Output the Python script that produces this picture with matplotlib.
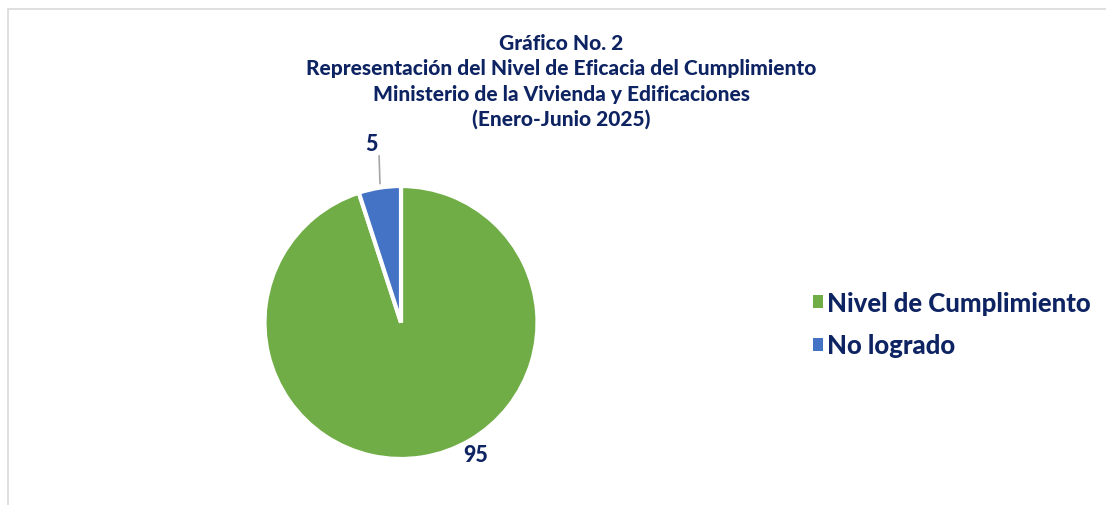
import matplotlib.pyplot as plt
from matplotlib.patches import Rectangle
import numpy as np

# data
categories = ["Nivel de Cumplimiento", "No logrado"]
values = [95, 5]
colors = ["#70AD47", "#4472C4"]
title_lines = [
    "Gráfico No. 2",
    "Representación del Nivel de Eficacia del Cumplimiento",
    "Ministerio de la Vivienda y Edificaciones",
    "(Enero-Junio 2025)",
]

navy = "#0E2362"
plt.rcParams["font.family"] = ["Lato", "DejaVu Sans"]

W, H = 1106, 506
fig = plt.figure(figsize=(W / 100, H / 100), dpi=100)

# light frame (chart area border, cut at right/bottom)
fig.patches.append(Rectangle((8 / W, -0.1), 1.2, 1.1 - 10 / H, transform=fig.transFigure,
                             fill=False, edgecolor="#D9D9D9", linewidth=1.2))

# pie axes: centre (401, 323) px, radius ~136 px
r_px = 136.5
half = 200
ax = fig.add_axes([(401 - half) / W, (H - 323.5 - half) / H, 2 * half / W, 2 * half / H])
wedges, _ = ax.pie(values, colors=colors, startangle=90, counterclock=False,
                   wedgeprops=dict(edgecolor="white", linewidth=3))
lim = half / r_px
ax.set_xlim(-lim, lim)
ax.set_ylim(-lim, lim)
ax.set_aspect("equal")
ax.axis("off")

# data labels
ang95 = np.deg2rad(-60.4)
ax.text(1.115 * np.cos(ang95), 1.115 * np.sin(ang95), str(values[0]), ha="center", va="center",
        fontsize=15.5, fontweight=900, color=navy)
ang5 = np.deg2rad(99.5)
ax.text(1.33 * np.cos(ang5), 1.33 * np.sin(ang5), str(values[1]), ha="center", va="center",
        fontsize=15.5, fontweight=900, color=navy)
a1 = np.deg2rad(98.6)
ax.plot([1.03 * np.cos(a1), 1.23 * np.cos(np.deg2rad(97.5))],
        [1.03 * np.sin(a1), 1.23 * np.sin(np.deg2rad(97.5))], color="#A6A6A6", lw=1.2)

# title
ys = [43, 68, 94, 119]
for line, y in zip(title_lines, ys):
    fig.text(561 / W, 1 - y / H, line, ha="center", va="center",
             fontsize=15, fontweight=900, color=navy)

# legend
leg = fig.legend(wedges, categories, loc="center left", bbox_to_anchor=(790 / W, 1 - 325 / H),
                 frameon=False, handlelength=0.4, handleheight=0.4,
                 handletextpad=0.15, labelspacing=0.72, labelcolor=navy,
                 prop=dict(weight=900, size=18.5))
for h in leg.legend_handles:
    h.set_edgecolor("none")

fig.savefig("out.png", dpi=100)
